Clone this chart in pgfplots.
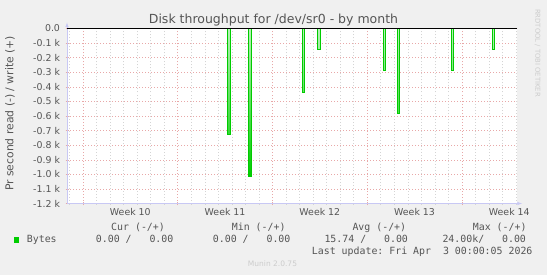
\documentclass[border=0pt]{standalone}
\usepackage{pgfplots}
\pgfplotsset{compat=1.18}
\usepackage{fontspec}
\setmainfont{DejaVu Sans}
\setmonofont{DejaVu Sans Mono}
\definecolor{bg}{HTML}{F0F0F0}
\definecolor{mgreen}{HTML}{00CC00}
\definecolor{lgreen}{HTML}{B8F0B8}
\definecolor{majgrid}{HTML}{E8A8A8}
\definecolor{mingrid}{HTML}{D4D4D4}
\definecolor{axblue}{HTML}{C8C8F4}
\definecolor{txt}{HTML}{555555}
\definecolor{faint}{HTML}{CCCCCC}
\begin{document}
\begin{tikzpicture}[x=1bp,y=1bp]
\path[use as bounding box, fill=bg] (0,0) rectangle (547,275);
\fill[white] (67,71.5) rectangle (517,246.5);
\begin{axis}[
  at={(67bp,71.5bp)}, anchor=south west,
  width=450bp, height=175bp, scale only axis,
  xmin=-1.18, xmax=32.07, ymin=-1.2, ymax=0,
  axis lines=left,
  axis line style={draw=axblue, line width=0.6pt},
  x axis line style={-latex, shorten >=-5bp},
  y axis line style={-latex, shorten >=-6bp},
  clip=false,
  xtick={0,7,14,21,28},
  xticklabels={},
  minor xtick={-1,1,2,3,4,5,6,8,9,10,11,12,13,15,16,17,18,19,20,22,23,24,25,26,27,29,30,31,32},
  extra x ticks={3.5,10.5,17.5,24.5,31.5},
  extra x tick labels={Week 10,Week 11,Week 12,Week 13,Week 14},
  extra x tick style={grid=none, major tick length=0pt},
  ytick={-1.2,-1.1,-1.0,-0.9,-0.8,-0.7,-0.6,-0.5,-0.4,-0.3,-0.2,-0.1,0},
  yticklabels={-1.2 k,-1.1 k,-1.0 k,-0.9 k,-0.8 k,-0.7 k,-0.6 k,-0.5 k,-0.4 k,-0.3 k,-0.2 k,-0.1 k,0.0},
  grid=both,
  major grid style={draw=majgrid, line width=0.5pt, dash pattern=on 1bp off 2bp},
  minor grid style={draw=mingrid, line width=0.5pt, dash pattern=on 1bp off 2bp},
  major tick length=3bp, minor tick length=2bp, tick align=center,
  tick style={draw=majgrid, line width=0.5pt},
  minor tick style={draw=mingrid},
  ticklabel style={font=\fontsize{9.4bp}{11bp}\selectfont, text=txt},
  yticklabel style={xshift=-2bp},
  xticklabel style={yshift=-1bp},
]
\addplot[ybar, bar width=2.5bp, bar shift=0pt, draw=mgreen, line width=0.6pt,
  top color=lgreen, bottom color=mgreen] coordinates {
  (10.79,-0.725) (12.34,-1.015) (16.28,-0.44) (17.44,-0.145)
  (22.27,-0.29) (23.30,-0.58) (27.29,-0.29) (30.33,-0.145)
};
\addplot[black, line width=0.8pt, forget plot] coordinates {(-1.18,0) (32.07,0)};
\end{axis}
% title
\node[anchor=base, text=txt, font=\fontsize{12.5bp}{14bp}\selectfont] at (273.5,251.5) {Disk throughput for /dev/sr0 - by month};
% y label
\node[rotate=90, text=txt, font=\fontsize{10.8bp}{12bp}\selectfont] at (10,161.5) {Pr second read (-) / write (+)};
% rrdtool
\node[rotate=-90, text=faint, font=\fontsize{6.8bp}{8bp}\selectfont] at (537.5,222) {RRDTOOL / TOBI OETIKER};
% legend
\begin{scope}[every node/.style={anchor=base west, inner sep=0pt, text=txt, font=\fontsize{9.9bp}{12bp}\ttfamily}]
\node at (111,45) {Cur~(-/+)};
\node at (231.7,45) {Min~(-/+)};
\node at (352.3,45) {Avg~(-/+)};
\node at (472.7,45) {Max~(-/+)};
\node at (26.7,32.3) {Bytes};
\node at (95.7,32.3) {0.00~/~~~0.00};
\node at (212.7,32.3) {0.00~/~~~0.00};
\node at (324.3,32.3) {15.74~/~~~0.00};
\node at (442.3,32.3) {24.00k/~~~0.00};
\node at (311.7,20.3) {Last~update:~Fri~Apr~~3~00:00:05~2026};
\end{scope}
\fill[mgreen] (14,32.3) rectangle (19.3,37.7);
\node[anchor=base, text=faint, font=\fontsize{7.5bp}{9bp}\selectfont] at (272.5,8.3) {Munin 2.0.75};
\end{tikzpicture}
\end{document}
